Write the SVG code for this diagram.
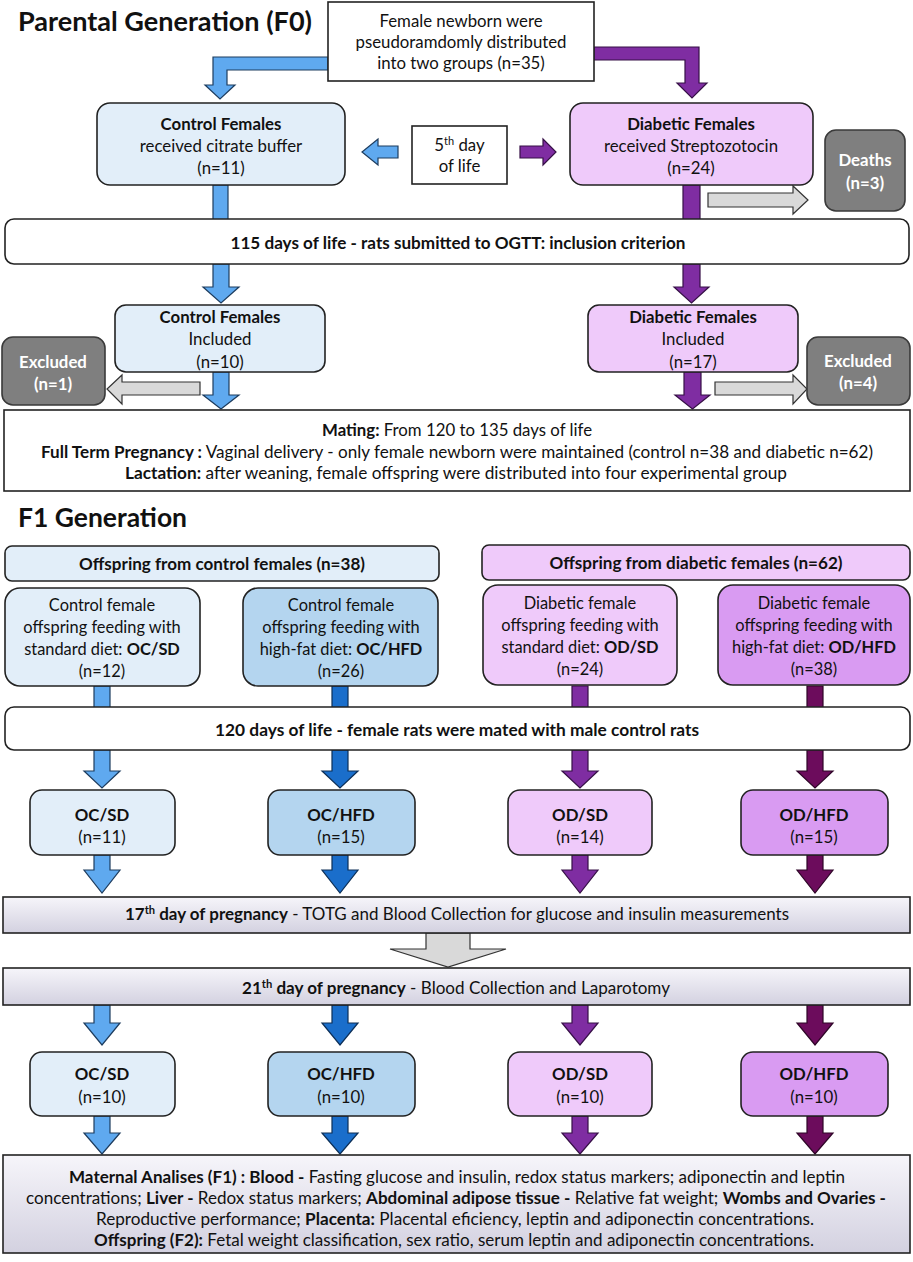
<svg xmlns="http://www.w3.org/2000/svg" width="913" height="1262" viewBox="0 0 913 1262">
<defs>
<linearGradient id="g" x1="0" y1="0" x2="0" y2="1">
<stop offset="0" stop-color="#f6f5fa"/>
<stop offset="1" stop-color="#d3d1e0"/>
</linearGradient>
<style>
text{font-family:Lato,"Liberation Sans",sans-serif;fill:#111;font-size:16.8px}
.m{text-anchor:middle}
.b{font-weight:bold}
.w{fill:#fff;font-weight:bold}
.h{font-size:27px;font-weight:bold}
.f1{font-size:16.4px}
.bx{stroke:#222;stroke-width:1.6}
.wh{fill:#fff}
.cl{fill:#e2eef9}
.cm{fill:#b4d5ef}
.pl{fill:#efcafa}
.pm{fill:#d99bf2}
.gd{fill:#7f7f7f;stroke:#3a3a3a;stroke-width:1.6}
.gr{fill:url(#g)}
.ab{fill:#5fa9ef;stroke:#1d3c5e;stroke-width:1.2}
.abd{fill:#1a6ecb;stroke:#0c2f57;stroke-width:1.2}
.ap{fill:#7f2da2;stroke:#361046;stroke-width:1.2}
.apd{fill:#6c0c5c;stroke:#2e0527;stroke-width:1.2}
.ag{fill:#d9d9d9;stroke:#333;stroke-width:1.2}
</style>
</defs>
<rect width="913" height="1262" fill="#fff"/>

<g id="titles">
<text x="18" y="31" class="h" textLength="294" lengthAdjust="spacingAndGlyphs">Parental Generation (F0)</text>
<text x="18" y="527" class="h" textLength="169" lengthAdjust="spacingAndGlyphs">F1 Generation</text>
</g>

<g id="connectors">
<path class="ab" d="M328 57H213V85H205L220 99L235 85H227V70H328Z"/>
<path class="ap" d="M594 47H699V83H707L692 98L677 83H685V60H594Z"/>
<path class="ab" d="M398 146V158H378V165L362 152L378 139V146Z"/>
<path class="ap" d="M520 146H543V139L556 152L543 165V158H520Z"/>
<path class="ag" d="M708 193H793V186L808 200L793 214V207H708Z"/>
<path class="ab" d="M213 185H228V220H213Z"/>
<path class="ap" d="M683 185H700V220H683Z"/>
<path class="ab" d="M213 264H229V287H239L221 303L203 287H213Z"/>
<path class="ap" d="M683 264H700V287H709L691.5 303L674 287H683Z"/>
<path class="ab" d="M213 372H229V395H239L221 409L203 395H213Z"/>
<path class="ap" d="M684 372H701V395H710L692.5 409L675 395H684Z"/>
<path class="ag" d="M200 382V395H122V404L107 389L122 375V382Z"/>
<path class="ag" d="M715 382H793V375L807 389L793 404V395H715Z"/>

<path class="ab" d="M94 686H110V708H94Z"/>
<path class="abd" d="M332 686H348V708H332Z"/>
<path class="ap" d="M572 686H588V708H572Z"/>
<path class="apd" d="M807 686H823V708H807Z"/>

<path class="ab" d="M94 750H110V771H120L102 788L84 771H94Z"/>
<path class="abd" d="M332 750H348V771H358L340 788L322 771H332Z"/>
<path class="ap" d="M572 750H588V771H598L580 788L562 771H572Z"/>
<path class="apd" d="M807 750H823V771H833L815 788L797 771H807Z"/>

<path class="ab" d="M94 855H110V870H120L102 893L84 870H94Z"/>
<path class="abd" d="M332 855H348V870H358L340 893L322 870H332Z"/>
<path class="ap" d="M572 855H588V870H598L580 893L562 870H572Z"/>
<path class="apd" d="M807 855H823V870H833L815 893L797 870H807Z"/>

<path class="ag" d="M426 933H470V949H506L448 967L390 949H426Z"/>

<path class="ab" d="M94 1005H110V1023H120L102 1045L84 1023H94Z"/>
<path class="abd" d="M332 1005H348V1023H358L340 1045L322 1023H332Z"/>
<path class="ap" d="M572 1005H588V1023H598L580 1045L562 1023H572Z"/>
<path class="apd" d="M807 1005H823V1023H833L815 1045L797 1023H807Z"/>

<path class="ab" d="M94 1116H110V1133H120L102 1154L84 1133H94Z"/>
<path class="abd" d="M332 1116H348V1133H358L340 1154L322 1133H332Z"/>
<path class="ap" d="M572 1116H588V1133H598L580 1154L562 1133H572Z"/>
<path class="apd" d="M807 1116H823V1133H833L815 1154L797 1133H807Z"/>
</g>

<g id="n-newborn">
<rect x="328" y="2" width="266" height="79" class="bx wh"/>
<text x="461" y="27" class="m">Female newborn were</text>
<text x="461" y="48" class="m">pseudoramdomly distributed</text>
<text x="461" y="69" class="m">into two groups (n=35)</text>
</g>

<g id="n-control">
<rect x="97" y="103" width="248" height="82" rx="13" class="bx cl"/>
<text x="221" y="130" class="m b">Control Females</text>
<text x="221" y="152" class="m">received citrate buffer</text>
<text x="221" y="174" class="m">(n=11)</text>
</g>

<g id="n-5th">
<rect x="412" y="126" width="95" height="58" class="bx wh"/>
<text x="459.5" y="151" class="m">5<tspan baseline-shift="super" font-size="11">th</tspan> day</text>
<text x="459.5" y="172" class="m">of life</text>
</g>

<g id="n-diabetic">
<rect x="570" y="103" width="243" height="82" rx="13" class="bx pl"/>
<text x="691" y="130" class="m b">Diabetic Females</text>
<text x="691" y="152" class="m">received Streptozotocin</text>
<text x="691" y="174" class="m">(n=24)</text>
</g>

<g id="n-deaths">
<rect x="825" y="130" width="80" height="81" rx="11" class="gd"/>
<text x="865" y="166" class="m w">Deaths</text>
<text x="865" y="189" class="m w" font-weight="normal">(n=3)</text>
</g>

<g id="n-ogtt">
<rect x="5" y="219" width="904" height="45" rx="9" class="bx wh"/>
<text x="458" y="249" class="m b" textLength="455" lengthAdjust="spacingAndGlyphs">115 days of life -  rats submitted to OGTT: inclusion criterion</text>
</g>

<g id="n-control-inc">
<rect x="115" y="305" width="210" height="67" rx="11" class="bx cl"/>
<text x="220" y="323" class="m b">Control Females</text>
<text x="220" y="345" class="m">Included</text>
<text x="220" y="368" class="m">(n=10)</text>
</g>

<g id="n-diabetic-inc">
<rect x="588" y="305" width="210" height="67" rx="11" class="bx pl"/>
<text x="693" y="323" class="m b">Diabetic Females</text>
<text x="693" y="345" class="m">Included</text>
<text x="693" y="368" class="m">(n=17)</text>
</g>

<g id="n-excl1">
<rect x="2" y="337" width="103" height="68" rx="11" class="gd"/>
<text x="53" y="368" class="m w">Excluded</text>
<text x="53" y="390" class="m w" font-weight="normal">(n=1)</text>
</g>

<g id="n-excl4">
<rect x="807" y="337" width="103" height="68" rx="11" class="gd"/>
<text x="858" y="367" class="m w">Excluded</text>
<text x="858" y="389" class="m w" font-weight="normal">(n=4)</text>
</g>

<g id="n-mating">
<rect x="4" y="410" width="906" height="81" class="bx wh"/>
<text x="457" y="436" class="m" textLength="270" lengthAdjust="spacingAndGlyphs"><tspan class="b">Mating:</tspan> From 120 to 135 days of life</text>
<text x="457" y="458" class="m" textLength="832" lengthAdjust="spacingAndGlyphs"><tspan class="b">Full Term Pregnancy :</tspan> Vaginal delivery - only female newborn were maintained (control n=38 and diabetic n=62)</text>
<text x="456" y="479" class="m" textLength="662" lengthAdjust="spacingAndGlyphs"><tspan class="b">Lactation:</tspan>  after weaning, female offspring were distributed into four experimental group</text>
</g>

<g id="n-off-control">
<rect x="5" y="546" width="434" height="35" rx="7" class="bx cl"/>
<text x="222" y="570" class="m b" textLength="286" lengthAdjust="spacingAndGlyphs">Offspring from control females (n=38)</text>
</g>

<g id="n-off-diabetic">
<rect x="482" y="545" width="428" height="35" rx="7" class="bx pl"/>
<text x="696" y="569" class="m b" textLength="293" lengthAdjust="spacingAndGlyphs">Offspring from diabetic females (n=62)</text>
</g>

<g id="n-ocsd">
<rect x="5" y="588" width="195" height="98" rx="15" class="bx cl"/>
<text x="102" y="611" class="m f1">Control female</text>
<text x="102" y="633" class="m f1">offspring feeding with</text>
<text x="102" y="655" class="m f1">standard diet: <tspan class="b">OC/SD</tspan></text>
<text x="102" y="677" class="m f1">(n=12)</text>
</g>

<g id="n-ochfd">
<rect x="243" y="588" width="195" height="98" rx="15" class="bx cm"/>
<text x="341" y="611" class="m f1">Control female</text>
<text x="341" y="633" class="m f1">offspring feeding with</text>
<text x="341" y="655" class="m f1">high-fat diet: <tspan class="b">OC/HFD</tspan></text>
<text x="341" y="677" class="m f1">(n=26)</text>
</g>

<g id="n-odsd">
<rect x="483" y="585" width="194" height="100" rx="15" class="bx pl"/>
<text x="580" y="609" class="m f1">Diabetic female</text>
<text x="580" y="631" class="m f1">offspring feeding with</text>
<text x="580" y="653" class="m f1">standard diet: <tspan class="b">OD/SD</tspan></text>
<text x="580" y="675" class="m f1">(n=24)</text>
</g>

<g id="n-odhfd">
<rect x="718" y="585" width="192" height="100" rx="15" class="bx pm"/>
<text x="814" y="609" class="m f1">Diabetic female</text>
<text x="814" y="631" class="m f1">offspring feeding with</text>
<text x="814" y="653" class="m f1">high-fat diet: <tspan class="b">OD/HFD</tspan></text>
<text x="814" y="675" class="m f1">(n=38)</text>
</g>

<g id="n-120">
<rect x="5" y="707" width="905" height="43" rx="9" class="bx wh"/>
<text x="457" y="736" class="m b" textLength="484" lengthAdjust="spacingAndGlyphs">120 days of life -  female rats were mated with male control rats</text>
</g>

<g id="n-ocsd2">
<rect x="30" y="790" width="145" height="65" rx="12" class="bx cl"/>
<text x="102" y="821" class="m b">OC/SD</text>
<text x="102" y="843" class="m">(n=11)</text>
</g>
<g id="n-ochfd2">
<rect x="268" y="790" width="147" height="65" rx="12" class="bx cm"/>
<text x="341" y="821" class="m b">OC/HFD</text>
<text x="341" y="843" class="m">(n=15)</text>
</g>
<g id="n-odsd2">
<rect x="508" y="790" width="144" height="65" rx="12" class="bx pl"/>
<text x="580" y="821" class="m b">OD/SD</text>
<text x="580" y="843" class="m">(n=14)</text>
</g>
<g id="n-odhfd2">
<rect x="741" y="790" width="147" height="65" rx="12" class="bx pm"/>
<text x="814" y="821" class="m b">OD/HFD</text>
<text x="814" y="843" class="m">(n=15)</text>
</g>

<g id="n-17th">
<rect x="3" y="897" width="907" height="36" class="bx gr"/>
<text x="457" y="920" class="m" textLength="664" lengthAdjust="spacingAndGlyphs"><tspan class="b">17<tspan baseline-shift="super" font-size="11">th</tspan> day of pregnancy</tspan>  - TOTG and Blood Collection for glucose and insulin measurements</text>
</g>

<g id="n-21th">
<rect x="3" y="968" width="907" height="37" class="bx gr"/>
<text x="456" y="994" class="m" textLength="428" lengthAdjust="spacingAndGlyphs"><tspan class="b">21<tspan baseline-shift="super" font-size="11">th</tspan> day of pregnancy</tspan>  - Blood Collection and Laparotomy</text>
</g>

<g id="n-ocsd3">
<rect x="30" y="1052" width="145" height="64" rx="12" class="bx cl"/>
<text x="102" y="1080" class="m b">OC/SD</text>
<text x="102" y="1103" class="m">(n=10)</text>
</g>
<g id="n-ochfd3">
<rect x="268" y="1052" width="147" height="64" rx="12" class="bx cm"/>
<text x="341" y="1080" class="m b">OC/HFD</text>
<text x="341" y="1103" class="m">(n=10)</text>
</g>
<g id="n-odsd3">
<rect x="508" y="1052" width="144" height="64" rx="12" class="bx pl"/>
<text x="580" y="1080" class="m b">OD/SD</text>
<text x="580" y="1103" class="m">(n=10)</text>
</g>
<g id="n-odhfd3">
<rect x="741" y="1052" width="147" height="64" rx="12" class="bx pm"/>
<text x="814" y="1080" class="m b">OD/HFD</text>
<text x="814" y="1103" class="m">(n=10)</text>
</g>

<g id="n-maternal">
<rect x="3" y="1155" width="907" height="98" class="bx gr"/>
<text x="457" y="1183" class="m" textLength="776" lengthAdjust="spacingAndGlyphs"><tspan class="b">Maternal Analises (F1) : Blood -</tspan> Fasting glucose and insulin, redox status markers; adiponectin and leptin</text>
<text x="456" y="1204" class="m" textLength="860" lengthAdjust="spacingAndGlyphs">concentrations; <tspan class="b">Liver -</tspan> Redox status markers; <tspan class="b">Abdominal adipose tissue -</tspan> Relative fat weight; <tspan class="b">Wombs and Ovaries -</tspan></text>
<text x="455" y="1225" class="m" textLength="718" lengthAdjust="spacingAndGlyphs">Reproductive performance; <tspan class="b">Placenta:</tspan> Placental eficiency, leptin and adiponectin concentrations.</text>
<text x="454" y="1246" class="m" textLength="720" lengthAdjust="spacingAndGlyphs"><tspan class="b">Offspring (F2):</tspan> Fetal weight classification, sex ratio, serum leptin and adiponectin concentrations.</text>
</g>
</svg>
